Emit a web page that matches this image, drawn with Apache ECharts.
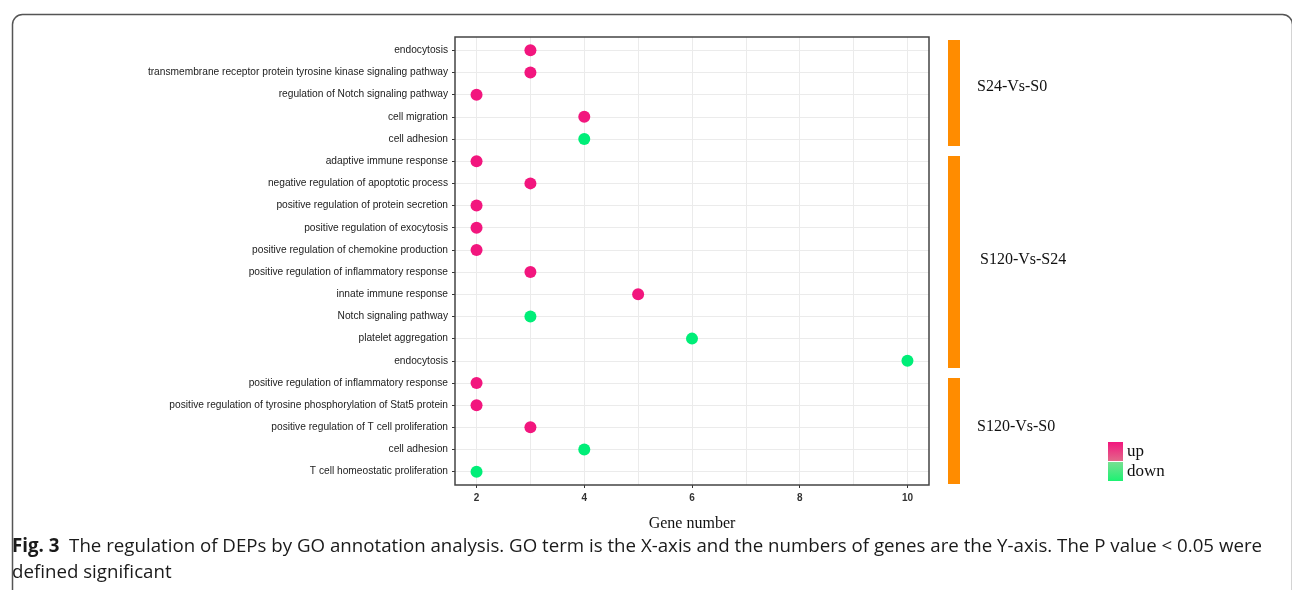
<!DOCTYPE html>
<html>
<head>
<meta charset="utf-8">
<script src="https://cdn.jsdelivr.net/npm/echarts@6/dist/echarts.min.js"></script>
<style>
html,body{margin:0;padding:0;background:#fff;}
#chart{width:1292px;height:590px;}
</style>
</head>
<body>
<div id="chart"></div>
<script>
// ---- data ----
const goTerms = [
  'endocytosis',
  'transmembrane receptor protein tyrosine kinase signaling pathway',
  'regulation of Notch signaling pathway',
  'cell migration',
  'cell adhesion',
  'adaptive immune response',
  'negative regulation of apoptotic process',
  'positive regulation of protein secretion',
  'positive regulation of exocytosis',
  'positive regulation of chemokine production',
  'positive regulation of inflammatory response',
  'innate immune response',
  'Notch signaling pathway',
  'platelet aggregation',
  'endocytosis',
  'positive regulation of inflammatory response',
  'positive regulation of tyrosine phosphorylation of Stat5 protein',
  'positive regulation of T cell proliferation',
  'cell adhesion',
  'T cell homeostatic proliferation'
];
const geneNumbers = [3, 3, 2, 4, 4, 2, 3, 2, 2, 2, 3, 5, 3, 6, 10, 2, 2, 3, 4, 2];
const regulation = ['up','up','up','up','down','up','up','up','up','up','up','up','down','down','down','up','up','up','down','down'];
const groupNames = ['S24-Vs-S0', 'S120-Vs-S24', 'S120-Vs-S0'];
const groupSizes = [5, 10, 5];
const xTickLabels = ['2', '4', '6', '8', '10'];

// ---- build ----
const upData = [], downData = [];
geneNumbers.forEach((v, i) => {
  (regulation[i] === 'up' ? upData : downData).push([v, i]);
});
const groupData = [];
let acc = 0;
groupSizes.forEach((n, i) => {
  groupData.push([acc, acc + n, i]);
  acc += n;
});
const totalRows = acc;

const chart = echarts.init(document.getElementById('chart'));
const serif = '"Liberation Serif", "DejaVu Serif", serif';
const sans = '"Liberation Sans", Arial, sans-serif';

function grad(c1, c2) {
  return new echarts.graphic.LinearGradient(0, 0, 0, 1, [{offset: 0, color: c1}, {offset: 1, color: c2}]);
}

chart.setOption({
  animation: false,
  backgroundColor: '#fff',
  grid: [
    {left: 455, width: 474, top: 37, height: 448, show: true, borderColor: '#444', borderWidth: 1.5, backgroundColor: 'transparent', z: 5},
    {left: 948, width: 12, top: 40, height: 444}
  ],
  xAxis: [
    {
      type: 'value', gridIndex: 0, position: 'bottom', min: 1.6, max: 10.4, splitNumber: 5,
      name: 'Gene number', nameLocation: 'middle', nameGap: 31,
      nameTextStyle: {fontFamily: serif, fontSize: 16, color: '#111'},
      axisLine: {show: false, onZero: false},
      axisTick: {show: true, length: 3, lineStyle: {color: '#333'}},
      axisLabel: {
        showMinLabel: false, showMaxLabel: false, margin: 8,
        fontFamily: sans, fontSize: 10, fontWeight: 'bold', color: '#333',
        formatter: v => xTickLabels.indexOf(String(Math.round(v))) >= 0 && Math.abs(v - Math.round(v)) < 1e-6 ? String(Math.round(v)) : ''
      },
      splitLine: {show: false}
    },
    {
      type: 'value', gridIndex: 0, position: 'bottom', min: 1.6, max: 10.4, splitNumber: 9,
      axisLine: {show: false, onZero: false}, axisTick: {show: false}, axisLabel: {show: false},
      splitLine: {show: true, showMinLine: false, showMaxLine: false, lineStyle: {color: '#ebebeb', width: 1}}
    },
    {type: 'value', gridIndex: 1, min: 0, max: 1, show: false}
  ],
  yAxis: [
    {
      type: 'value', gridIndex: 0, inverse: true, min: -0.6, max: totalRows - 0.4, splitNumber: totalRows,
      axisLine: {show: false, onZero: false},
      axisTick: {show: true, length: 3, lineStyle: {color: '#333'}},
      axisLabel: {
        margin: 7, fontFamily: sans, fontSize: 10.2, color: '#222',
        showMinLabel: false, showMaxLabel: false,
        formatter: v => {
          const r = Math.round(v);
          return (Math.abs(v - r) < 1e-6 && r >= 0 && r < goTerms.length) ? goTerms[r] : '';
        }
      },
      splitLine: {show: true, showMinLine: false, showMaxLine: false, lineStyle: {color: '#ebebeb', width: 1}}
    },
    {type: 'value', gridIndex: 1, inverse: true, min: 0, max: totalRows, show: false}
  ],
  legend: {
    orient: 'vertical', left: 1108, top: 442, padding: 0, itemGap: 1,
    itemWidth: 15, itemHeight: 19,
    textStyle: {fontFamily: serif, fontSize: 17, color: '#111', padding: [0, 0, 0, -1]},
    data: [
      {name: 'up', icon: 'rect', itemStyle: {color: grad('#f2167e', '#e2688a')}},
      {name: 'down', icon: 'rect', itemStyle: {color: grad('#78df92', '#1cf272')}}
    ]
  },
  series: [
    {
      name: 'up', type: 'scatter', xAxisIndex: 0, yAxisIndex: 0,
      symbolSize: 12, itemStyle: {color: '#f2167e', opacity: 1}, data: upData, z: 3
    },
    {
      name: 'down', type: 'scatter', xAxisIndex: 0, yAxisIndex: 0,
      symbolSize: 12, itemStyle: {color: '#00ee78', opacity: 1}, data: downData, z: 3
    },
    {
      type: 'custom', xAxisIndex: 2, yAxisIndex: 1, clip: false,
      data: groupData,
      renderItem: (params, api) => {
        const s = api.value(0), e = api.value(1), gi = api.value(2);
        const p0 = api.coord([0, s]);
        const p1 = api.coord([1, e]);
        const gap = 5;
        const y0 = p0[1] + (s > 0 ? gap : 0);
        const y1 = p1[1] - (e < totalRows ? gap : 0);
        return {
          type: 'group',
          children: [
            {type: 'rect', shape: {x: p0[0], y: y0, width: p1[0] - p0[0], height: y1 - y0}, style: {fill: '#ff8c00'}},
            {type: 'text', style: {
              x: p1[0] + 17 + (gi === 1 ? 3 : 0), y: (y0 + y1) / 2 - (gi === 0 ? 6 : gi === 1 ? 2 : 4),
              text: groupNames[gi], fill: '#111', font: '16px ' + serif,
              align: 'left', verticalAlign: 'middle'
            }}
          ]
        };
      }
    }
  ],
  graphic: [
    {type: 'rect', left: 10, top: 12, shape: {width: 1280, height: 700, r: 10},
      style: {fill: 'none', stroke: '#555', lineWidth: 1.5}, silent: true, z: -10},
    {type: 'text', left: 12, top: 534, style: {
      text: '{b|Fig. 3}  The regulation of DEPs by GO annotation analysis. GO term is the X-axis and the numbers of genes are the Y-axis. The P value < 0.05 were\ndefined significant',
      font: '18.7px "Open Sans", sans-serif', fill: '#1a1a1a', lineHeight: 26,
      rich: {b: {font: 'bold 18.7px "Open Sans", sans-serif', fill: '#1a1a1a', lineHeight: 26}}
    }}
  ]
});
</script>
</body>
</html>
